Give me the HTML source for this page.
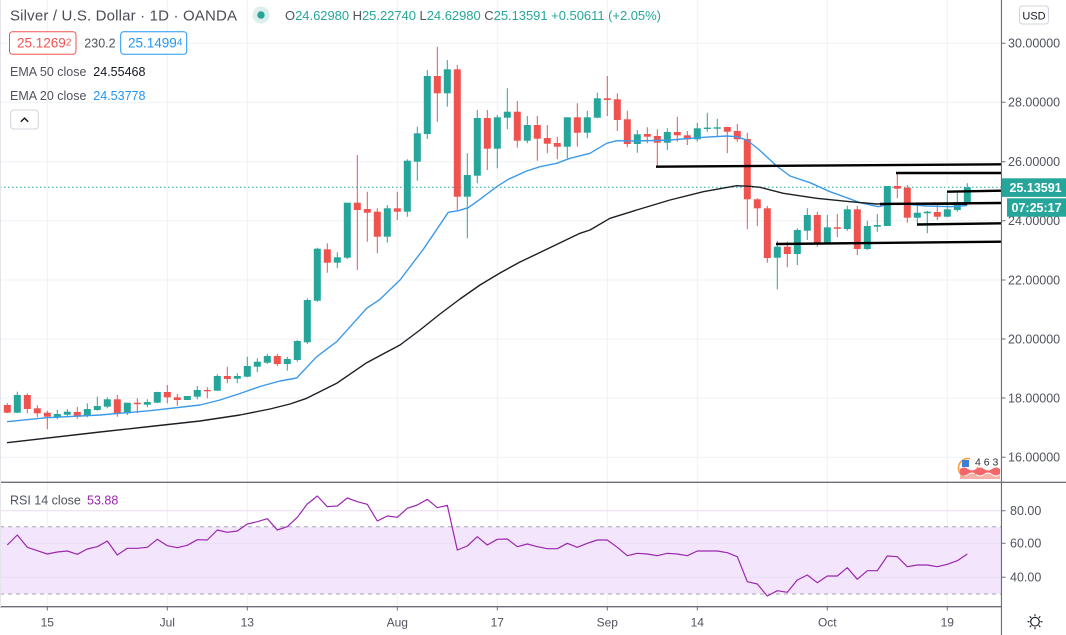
<!DOCTYPE html>
<html><head><meta charset="utf-8"><style>
html,body{margin:0;padding:0;background:#fff;}
svg{display:block;}
text{font-family:"Liberation Sans",sans-serif;}
</style></head><body>
<svg width="1066" height="635" viewBox="0 0 1066 635" xmlns="http://www.w3.org/2000/svg">
<rect width="1066" height="635" fill="#fff"/>
<!-- grid -->
<g stroke="#eff1f6" stroke-width="1">
<path d="M47.3 0V607M167.3 0V607M247.3 0V607M397.3 0V607M497.3 0V607M607.3 0V607M697.3 0V607M827.3 0V607M947.3 0V607"/>
<path d="M0 43.3H1001M0 102.3H1001M0 161.7H1001M0 220.7H1001M0 280H1001M0 339H1001M0 398H1001M0 457.3H1001"/>
</g>
<!-- RSI band -->
<rect x="0" y="526.7" width="1001" height="67.3" fill="#f3e6fc"/>
<g stroke="#eadcf3" stroke-width="1"><path d="M0 510.7H1001M0 543.3H1001M0 577.3H1001"/></g>
<g stroke="#a3a6af" stroke-width="1" stroke-dasharray="4 4"><path d="M0 526.7H1001M0 594H1001"/></g>
<!-- current price dotted -->
<path d="M0 187.3H1001" stroke="#26a69a" stroke-width="1" stroke-dasharray="1.5 2.5"/>
<!-- up candles -->
<g stroke="#26a69a" stroke-width="1" fill="none">
<path d="M17.3 391.7V413.3M57.3 410V419.3M67.3 409V417.3M87.3 403.3V417.3M97.3 396.7V410.7M107.3 397.3V408.3M127.3 402.7V415M147.3 399.3V407.3M157.3 391.7V403.3M187.3 396V400M197.3 386V399.3M217.3 374.3V390.7M237.3 373.3V383.3M247.3 356.7V377.3M257.3 358.3V372.3M267.3 354V364M287.3 356.7V370.7M297.3 340V361.7M307.3 298.3V344M317.3 247.7V301.7M337.3 252.3V268.3M347.3 202.7V259M387.3 205V242.7M407.3 159.3V216.7M417.3 126.7V180.7M427.3 70V139M447.3 60V106.7M467.3 153.3V238.3M477.3 110V183.3M497.3 115V168.3M507.3 88.3V129.3M527.3 116V143.3M567.3 117.3V158.3M587.3 110.7V138.3M597.3 92.7V118.3M637.3 130V152.7M667.3 128.3V150M697.3 122.7V141.7M707.3 112.7V131.7M717.3 118.7V136M777.3 240.7V289.3M797.3 228.3V265M807.3 208.3V240M827.3 215V243.3M847.3 205.7V230.7M867.3 220.7V250M877.3 214V231.7M887.3 186V226M917.3 202.3V224M927.3 210.7V233.3M947.3 193.3V217.3M957.3 192.7V211.7M967.3 183.3V203.3"/>
</g>
<g fill="#26a69a">
<rect x="13.8" y="395" width="7" height="17.7"/><rect x="53.8" y="414" width="7" height="3.3"/><rect x="63.8" y="411.7" width="7" height="3"/><rect x="83.8" y="409" width="7" height="7"/><rect x="93.8" y="406" width="7" height="4"/><rect x="103.8" y="399.3" width="7" height="7.4"/><rect x="123.8" y="402.7" width="7" height="10.6"/><rect x="143.8" y="402" width="7" height="2.7"/><rect x="153.8" y="392" width="7" height="10.7"/><rect x="183.8" y="396" width="7" height="4"/><rect x="193.8" y="390" width="7" height="6.7"/><rect x="213.8" y="376" width="7" height="14.7"/><rect x="233.8" y="376" width="7" height="2.7"/><rect x="243.8" y="366" width="7" height="10.7"/><rect x="253.8" y="361.7" width="7" height="5"/><rect x="263.8" y="356" width="7" height="6.7"/><rect x="283.8" y="359" width="7" height="5"/><rect x="293.8" y="341" width="7" height="19"/><rect x="303.8" y="300" width="7" height="42.3"/><rect x="313.8" y="248.7" width="7" height="52"/><rect x="333.8" y="257.3" width="7" height="5.4"/><rect x="343.8" y="202.7" width="7" height="55"/><rect x="383.8" y="208.3" width="7" height="28.4"/><rect x="403.8" y="160.7" width="7" height="51"/><rect x="413.8" y="133.3" width="7" height="28.4"/><rect x="423.8" y="76" width="7" height="58"/><rect x="443.8" y="69.3" width="7" height="24"/><rect x="463.8" y="175" width="7" height="21.7"/><rect x="473.8" y="118" width="7" height="57.7"/><rect x="493.8" y="117.3" width="7" height="31.4"/><rect x="503.8" y="111.7" width="7" height="6"/><rect x="523.8" y="125" width="7" height="15.7"/><rect x="563.8" y="117.3" width="7" height="29.4"/><rect x="583.8" y="117.3" width="7" height="15.4"/><rect x="593.8" y="98.3" width="7" height="19.4"/><rect x="633.8" y="134.3" width="7" height="9.7"/><rect x="663.8" y="132" width="7" height="10.7"/><rect x="693.8" y="128.3" width="7" height="11"/><rect x="703.8" y="127.6" width="7" height="1.4"/><rect x="713.8" y="127.3" width="7" height="1.4"/><rect x="773.8" y="246.7" width="7" height="11"/><rect x="793.8" y="230" width="7" height="24"/><rect x="803.8" y="215" width="7" height="15.7"/><rect x="823.8" y="227.3" width="7" height="15.4"/><rect x="843.8" y="209.3" width="7" height="19.7"/><rect x="863.8" y="226" width="7" height="23"/><rect x="873.8" y="225" width="7" height="1.7"/><rect x="883.8" y="186" width="7" height="40"/><rect x="913.8" y="212.7" width="7" height="5"/><rect x="923.8" y="211.7" width="7" height="1.6"/><rect x="943.8" y="209.3" width="7" height="7.4"/><rect x="953.8" y="202.3" width="7" height="7.7"/><rect x="963.8" y="187.3" width="7" height="15.4"/>
</g>
<!-- down candles -->
<g stroke="#ef5350" stroke-width="1" fill="none">
<path d="M7.3 403.3V413.3M27.3 393.3V413.3M37.3 405.3V417.3M47.3 410.7V429.3M77.3 406.7V418.7M117.3 395V416.7M137.3 398.3V413.3M167.3 385V403.3M177.3 394V405.7M207.3 387.3V398.3M227.3 366.7V383.3M277.3 354V366M327.3 243.3V272.7M357.3 155V270M367.3 191.7V241.7M377.3 208.3V253.3M397.3 191.7V220M437.3 46.7V121.7M457.3 65V210M487.3 110V170M517.3 101V147.7M537.3 116V160.7M547.3 125V153.3M557.3 136.7V159.3M577.3 103.3V146.7M607.3 76V116M617.3 93.3V131M627.3 110.7V147.3M647.3 127.3V143.3M657.3 129.3V166.7M677.3 116.7V141.7M687.3 131V145M727.3 126.7V153.3M737.3 124V141.7M747.3 132.7V229.3M757.3 198.3V226M767.3 206V262.7M787.3 241.7V267.3M817.3 211.7V246.7M837.3 214V237.3M857.3 206V255M897.3 172.7V198.3M907.3 185V222.7M937.3 205V220"/>
</g>
<g fill="#ef5350">
<rect x="3.8" y="405" width="7" height="7.7"/><rect x="23.8" y="395" width="7" height="14"/><rect x="33.8" y="408.3" width="7" height="5"/><rect x="43.8" y="412.7" width="7" height="4"/><rect x="73.8" y="412" width="7" height="4.7"/><rect x="113.8" y="399.3" width="7" height="14"/><rect x="133.8" y="402.7" width="7" height="1.5"/><rect x="163.8" y="392" width="7" height="5.3"/><rect x="173.8" y="397.3" width="7" height="2.7"/><rect x="203.8" y="390" width="7" height="1.3"/><rect x="223.8" y="376" width="7" height="3"/><rect x="273.8" y="356" width="7" height="8"/><rect x="323.8" y="249.3" width="7" height="13.4"/><rect x="353.8" y="202.7" width="7" height="7.3"/><rect x="363.8" y="209" width="7" height="3.7"/><rect x="373.8" y="211.7" width="7" height="25"/><rect x="393.8" y="208.3" width="7" height="3.4"/><rect x="433.8" y="76" width="7" height="17.3"/><rect x="453.8" y="69.3" width="7" height="127.4"/><rect x="483.8" y="118" width="7" height="30.7"/><rect x="513.8" y="111.7" width="7" height="29"/><rect x="533.8" y="125" width="7" height="13.7"/><rect x="543.8" y="138" width="7" height="5.7"/><rect x="553.8" y="143" width="7" height="3.7"/><rect x="573.8" y="117.3" width="7" height="15.4"/><rect x="603.8" y="98.3" width="7" height="1.7"/><rect x="613.8" y="99.3" width="7" height="20.7"/><rect x="623.8" y="119.3" width="7" height="24.7"/><rect x="643.8" y="134" width="7" height="2.7"/><rect x="653.8" y="136" width="7" height="6.7"/><rect x="673.8" y="132" width="7" height="3.3"/><rect x="683.8" y="135.3" width="7" height="4"/><rect x="723.8" y="127" width="7" height="4.7"/><rect x="733.8" y="131" width="7" height="8.3"/><rect x="743.8" y="139" width="7" height="60.3"/><rect x="753.8" y="199.3" width="7" height="9"/><rect x="763.8" y="208.3" width="7" height="49.7"/><rect x="783.8" y="246.7" width="7" height="7.3"/><rect x="813.8" y="215" width="7" height="27.7"/><rect x="833.8" y="227.3" width="7" height="1.5"/><rect x="853.8" y="209.3" width="7" height="39.7"/><rect x="893.8" y="186" width="7" height="2.7"/><rect x="903.8" y="187.7" width="7" height="30"/><rect x="933.8" y="212" width="7" height="4.7"/>
</g>
<!-- EMA 20 -->
<polyline fill="none" stroke="#3d9ae8" stroke-width="1.4" stroke-linejoin="round" points="7,421.7 46.7,417.7 100,415 150,410.7 200,405 220,400 240,393.5 260,386.5 280,381 296.7,378 316.7,356.7 336.7,341.7 366.7,308.3 380,299.3 400,280 423.3,249.3 448.3,212.3 458.3,210.7 468.3,207.7 480,199.3 496.7,186.7 508.3,179.3 526.7,171 540,166.7 556.7,163.3 570,158.3 590,153.3 606.7,143.3 616.7,140.7 636.7,141 670,140 703.3,137.3 726.7,136 736.7,136.7 746.7,140 758.3,149 776.7,166 790,176 810,182.7 830,191.7 846.7,197.7 860,202.7 878.3,206.7 890,203.8 906.7,204.3 926.7,206 950,206.7 967.3,205.5"/>
<!-- EMA 50 -->
<polyline fill="none" stroke="#1e1f24" stroke-width="1.4" stroke-linejoin="round" points="7,442.7 100,432 150,426.5 200,421 240,415 270,409 290,404 306.7,398.3 336.7,383.3 366.7,362.7 400,345 420,330 440,314 460,299 480,285 500,273 520,262 546.7,249.3 580,233.3 590,230 610,218.3 636.7,210 670,200 703.3,191.7 736.7,185.7 750,186.3 760,187.3 783.3,193.3 816.7,198.3 850,201.7 876.7,204 900,203.3 933.3,204.3 967.3,204.3"/>
<!-- drawn horizontal lines -->
<g stroke="#000" stroke-width="2.4" fill="none">
<path d="M656 166.7L1001 164.3"/>
<path d="M896 173L1001 173"/>
<path d="M947 191.7L1001 190.7"/>
<path d="M880 204L1001 203"/>
<path d="M917 224.5L1001 223.3"/>
<path d="M776 244L1001 241.7"/>
</g>
<!-- RSI line -->
<polyline fill="none" stroke="#9b27af" stroke-width="1.2" stroke-linejoin="round" points="7.3,545 17.3,535 27.3,547.3 37.3,550.7 47.3,554 57.3,552 67.3,551 77.3,554.3 87.3,549 97.3,546.7 107.3,541 117.3,555 127.3,548.3 137.3,548.3 147.3,547.3 157.3,539.3 167.3,545.7 177.3,547.7 187.3,545.3 197.3,539.7 207.3,540 217.3,530 227.3,532.3 237.3,531 247.3,524 257.3,521.7 267.3,518.7 277.3,530 287.3,526.7 297.3,517.3 307.3,504 317.3,496 327.3,506.7 337.3,506 347.3,498 357.3,501.7 367.3,504.3 377.3,521 387.3,516 397.3,517.3 407.3,508.3 417.3,505 427.3,499.3 437.3,507.7 447.3,505.3 457.3,550 467.3,546 477.3,536.7 487.3,545 497.3,539.3 507.3,539 517.3,546.7 527.3,544 537.3,546.7 547.3,548.7 557.3,548.7 567.3,543.3 577.3,547.3 587.3,543.3 597.3,540 607.3,540 617.3,547.3 627.3,555.7 637.3,553.3 647.3,554 657.3,555.7 667.3,553.3 677.3,554 687.3,555.7 697.3,551 707.3,551 717.3,551 727.3,552.7 737.3,556.7 747.3,581.7 757.3,584 767.3,596 777.3,590.7 787.3,592.3 797.3,580 807.3,575 817.3,582.7 827.3,576 837.3,576 847.3,567.7 857.3,579.3 867.3,570.7 877.3,570.7 887.3,556 897.3,556.7 907.3,566.7 917.3,565 927.3,565 937.3,566.7 947.3,564.3 957.3,560.7 967.3,554"/>
<!-- events flag icon -->
<g>
<circle cx="968" cy="468" r="9.5" fill="#fff" stroke="#f5a142" stroke-width="1.6"/>
<rect x="962" y="460" width="7" height="7" fill="#3f7fd6"/>
<path d="M960 469 Q964 466 968 469 T976 469 T984 469 T992 469 T1000 469 V474 Q996 477 992 474 T984 474 T976 474 T968 474 T960 474Z" fill="#f2686a"/>
<path d="M960 475 Q964 478 968 475 T976 475 T984 475 T992 475 T1000 475 V479 H960Z" fill="#f6b2a8"/>
<rect x="970" y="456" width="31" height="11" fill="#fff" opacity="0.85"/>
<text x="975" y="465.5" font-size="10.5" fill="#2a2e39">4 6 3</text>
</g>
<!-- pane borders -->
<path d="M0 482.3H1066" stroke="#6b6e78" stroke-width="1.4"/>
<path d="M0 606.7H1001.5" stroke="#6b6e78" stroke-width="1.4"/>
<path d="M1001.5 0V635" stroke="#6b6e78" stroke-width="1.2"/>
<path d="M0.5 0V607" stroke="#e3e5ea" stroke-width="1"/>
<rect x="1002.2" y="0" width="64" height="481.6" fill="#fff"/>
<rect x="1002.2" y="483" width="64" height="152" fill="#fff"/>
<!-- price axis ticks and labels -->
<g stroke="#6b6e78" stroke-width="1"><path d="M1001.5 43.3H1005.5M1001.5 102.3H1005.5M1001.5 161.7H1005.5M1001.5 220.7H1005.5M1001.5 280H1005.5M1001.5 339H1005.5M1001.5 398H1005.5M1001.5 457.3H1005.5M1001.5 510.7H1005.5M1001.5 543.3H1005.5M1001.5 577.3H1005.5"/></g>
<g font-size="12.5" fill="#50535e">
<text x="1008" y="47.7">30.00000</text>
<text x="1008" y="106.7">28.00000</text>
<text x="1008" y="166.1">26.00000</text>
<text x="1008" y="225.1">24.00000</text>
<text x="1008" y="284.4">22.00000</text>
<text x="1008" y="343.4">20.00000</text>
<text x="1008" y="402.4">18.00000</text>
<text x="1008" y="461.7">16.00000</text>
<text x="1010" y="515.1">80.00</text>
<text x="1010" y="547.7">60.00</text>
<text x="1010" y="581.7">40.00</text>
</g>
<!-- price tags -->
<rect x="1002" y="178.3" width="64" height="18.6" fill="#26a69a"/>
<rect x="1007" y="198.3" width="59" height="18.4" fill="#26a69a"/>
<text x="1009.5" y="192" font-size="12.5" font-weight="bold" fill="#fff">25.13591</text>
<text x="1011.5" y="212" font-size="12.5" font-weight="bold" fill="#fff">07:25:17</text>
<!-- USD button -->
<rect x="1019.5" y="6" width="29" height="18" rx="3" fill="#fff" stroke="#d1d4dc"/>
<text x="1034" y="19.3" font-size="11" fill="#131722" text-anchor="middle">USD</text>
<!-- time axis -->
<g stroke="#6b6e78" stroke-width="1"><path d="M47.3 606.7V610.5M167.3 606.7V610.5M247.3 606.7V610.5M397.3 606.7V610.5M497.3 606.7V610.5M607.3 606.7V610.5M697.3 606.7V610.5M827.3 606.7V610.5M947.3 606.7V610.5"/></g>
<g font-size="12" fill="#50535e" text-anchor="middle">
<text x="47.3" y="626.5">15</text>
<text x="167.3" y="626.5">Jul</text>
<text x="247.3" y="626.5">13</text>
<text x="397.3" y="626.5">Aug</text>
<text x="497.3" y="626.5">17</text>
<text x="607.3" y="626.5">Sep</text>
<text x="697.3" y="626.5">14</text>
<text x="827.3" y="626.5">Oct</text>
<text x="947.3" y="626.5">19</text>
</g>
<!-- gear/sun icon -->
<g stroke="#131722" stroke-width="1.1" fill="none">
<circle cx="1035" cy="621.7" r="4.3"/>
<path d="M1035 614.2V616.3M1035 627.1V629.2M1027.5 621.7H1029.6M1040.4 621.7H1042.5M1029.7 616.4L1031.2 617.9M1038.8 625.5L1040.3 627M1029.7 627L1031.2 625.5M1038.8 617.9L1040.3 616.4"/>
</g>
<!-- header legend -->
<text x="10" y="20.7" font-size="15" fill="#4a4d57" textLength="227" lengthAdjust="spacing">Silver / U.S. Dollar · 1D · OANDA</text>
<circle cx="261" cy="15" r="8.5" fill="#dcefed"/>
<circle cx="261" cy="15" r="3.7" fill="#26a69a"/>
<text x="285" y="20.2" font-size="13" fill="#26a69a" textLength="376" lengthAdjust="spacing"><tspan fill="#50535e">O</tspan>24.62980 <tspan fill="#50535e">H</tspan>25.22740 <tspan fill="#50535e">L</tspan>24.62980 <tspan fill="#50535e">C</tspan>25.13591 +0.50611 (+2.05%)</text>
<rect x="9.5" y="31.7" width="66.5" height="22.6" rx="3" fill="#fff" stroke="#ef5350" stroke-width="1"/>
<text x="17" y="47.6" font-size="13.5" fill="#ef5350">25.1269<tspan font-size="10" dy="-2">2</tspan></text>
<text x="84.3" y="47.3" font-size="12.5" fill="#50535e">230.2</text>
<rect x="120.7" y="31.7" width="66" height="22.6" rx="3" fill="#fff" stroke="#2196f3" stroke-width="1"/>
<text x="128" y="47.6" font-size="13.5" fill="#2196f3">25.1499<tspan font-size="10" dy="-2">4</tspan></text>
<text x="10" y="76" font-size="12.5" fill="#50535e">EMA 50 close</text>
<text x="93.3" y="76" font-size="12.5" fill="#131722">24.55468</text>
<text x="10" y="100" font-size="12.5" fill="#50535e">EMA 20 close</text>
<text x="93.3" y="100" font-size="12.5" fill="#2196f3">24.53778</text>
<rect x="10.7" y="110" width="27.6" height="19" rx="3" fill="#fff" stroke="#d1d4dc"/>
<path d="M20.8 121.8L24.5 118.1L28.2 121.8" fill="none" stroke="#131722" stroke-width="1.4"/>
<!-- RSI legend -->
<text x="10" y="504.4" font-size="12.5" fill="#50535e">RSI 14 close</text>
<text x="87" y="504.4" font-size="12.5" fill="#9b27af">53.88</text>
</svg>
</body></html>
